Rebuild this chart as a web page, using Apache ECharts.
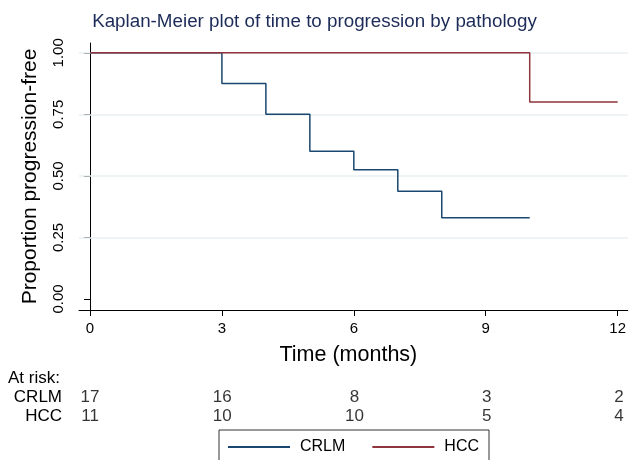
<!DOCTYPE html>
<html>
<head>
<meta charset="utf-8">
<script src="https://cdn.jsdelivr.net/npm/echarts@6/dist/echarts.min.js"></script>
<style>
html, body { margin: 0; padding: 0; background: #fff; }
#main { width: 629px; height: 460px; }
</style>
</head>
<body>
<div id="main"></div>
<script>
// Kaplan-Meier step data [time, survival]
var crlm = [[0, 1], [3, 1], [3, 0.875], [4, 0.875], [4, 0.75], [5, 0.75], [5, 0.6],
            [6, 0.6], [6, 0.525], [7, 0.525], [7, 0.4375], [8, 0.4375], [8, 0.33], [10, 0.33]];
var hcc = [[0, 1], [10, 1], [10, 0.8], [12, 0.8]];

var xTicks = [0, 3, 6, 9, 12];
var yTicks = [0, 0.25, 0.5, 0.75, 1];
var gridYs = [0.25, 0.5, 0.75, 1];

var riskTimes = [0, 3, 6, 9, 12];
var riskCRLM = [17, 16, 8, 3, 2];
var riskHCC = [11, 10, 10, 5, 4];

var font = 'Liberation Sans, Arial, sans-serif';
var blue = '#1a476f';
var red = '#90353b';

function riskData(vals, row) {
    return vals.map(function (v, i) { return { value: [riskTimes[i], row], label: { formatter: String(v) } }; });
}

var myChart = echarts.init(document.getElementById('main'));
var option = {
    backgroundColor: '#fff',
    textStyle: { fontFamily: font },
    title: {
        text: 'Kaplan-Meier plot of time to progression by pathology',
        left: 'center',
        top: 7,
        textStyle: { fontFamily: font, fontSize: 18.8, fontWeight: 'normal', color: '#1c2b57' }
    },
    legend: {
        data: ['CRLM', 'HCC'],
        left: 219,
        top: 430,
        width: 269,
        itemWidth: 62,
        itemHeight: 2,
        itemGap: 27,
        icon: 'rect',
        borderColor: '#333',
        borderWidth: 1,
        borderRadius: 0,
        padding: [9, 10, 20, 9],
        textStyle: { fontFamily: font, fontSize: 16, color: '#000', padding: [0, 0, 0, 5] }
    },
    graphic: [{
        type: 'text',
        left: 8,
        top: 370,
        style: { text: 'At risk:', font: '17px ' + font, fill: '#000' }
    }],
    grid: [
        { left: 79, right: 0, top: 43, bottom: 150 },
        { left: 79, right: 0, top: 388, height: 38 }
    ],
    xAxis: [{
        type: 'value',
        gridIndex: 0,
        min: -0.25,
        max: 12.23,
        name: 'Time (months)',
        nameLocation: 'middle',
        nameGap: 34,
        nameTextStyle: { fontFamily: font, fontSize: 21.5, color: '#000', padding: [0, 10, 0, 0] },
        axisLine: { show: true, onZero: false, lineStyle: { color: '#000', width: 1 } },
        axisTick: { show: true, inside: false, length: 6, customValues: xTicks, lineStyle: { color: '#000' } },
        axisLabel: { customValues: xTicks, fontSize: 15, color: '#000', margin: 11, fontFamily: font },
        splitLine: { show: false }
    }, {
        type: 'value',
        gridIndex: 1,
        min: -0.25,
        max: 12.23,
        show: false
    }],
    yAxis: [{
        type: 'value',
        gridIndex: 0,
        min: -0.045,
        max: 1.04,
        name: 'Proportion progression-free',
        nameLocation: 'middle',
        nameGap: 38,
        nameTextStyle: { fontFamily: font, fontSize: 21, color: '#000' },
        axisLine: { show: true, lineStyle: { color: '#000', width: 1 } },
        axisTick: { show: true, inside: false, length: 6, customValues: yTicks, lineStyle: { color: '#000' } },
        axisLabel: {
            customValues: yTicks, rotate: 90, fontSize: 15, color: '#000', margin: 13, fontFamily: font,
            formatter: function (v) { return v.toFixed(2); }
        },
        splitLine: { show: false }
    }, {
        type: 'category',
        gridIndex: 1,
        data: ['HCC', 'CRLM'],
        axisLine: { show: false },
        axisTick: { show: false },
        axisLabel: { interval: 0, fontSize: 17, color: '#000', margin: 17, fontFamily: font }
    }],
    series: [{
        name: 'CRLM',
        type: 'line',
        data: crlm,
        showSymbol: false,
        symbol: 'none',
        color: blue,
        lineStyle: { color: blue, width: 1.5 },
        z: 3,
        markLine: {
            silent: true,
            symbol: ['none', 'none'],
            label: { show: false },
            lineStyle: { color: '#e8eff2', type: 'solid', width: 1.5 },
            data: gridYs.map(function (y) { return { yAxis: y }; }),
            z: 1
        }
    }, {
        name: 'HCC',
        type: 'line',
        data: hcc,
        showSymbol: false,
        symbol: 'none',
        color: red,
        lineStyle: { color: red, width: 1.5 },
        z: 4
    }, {
        type: 'scatter',
        xAxisIndex: 1,
        yAxisIndex: 1,
        symbolSize: 0,
        silent: true,
        data: riskData(riskCRLM, 'CRLM').concat(riskData(riskHCC, 'HCC')),
        label: { show: true, position: 'inside', fontSize: 17, color: '#000', fontFamily: font }
    }]
};
myChart.setOption(option);
</script>
</body>
</html>
